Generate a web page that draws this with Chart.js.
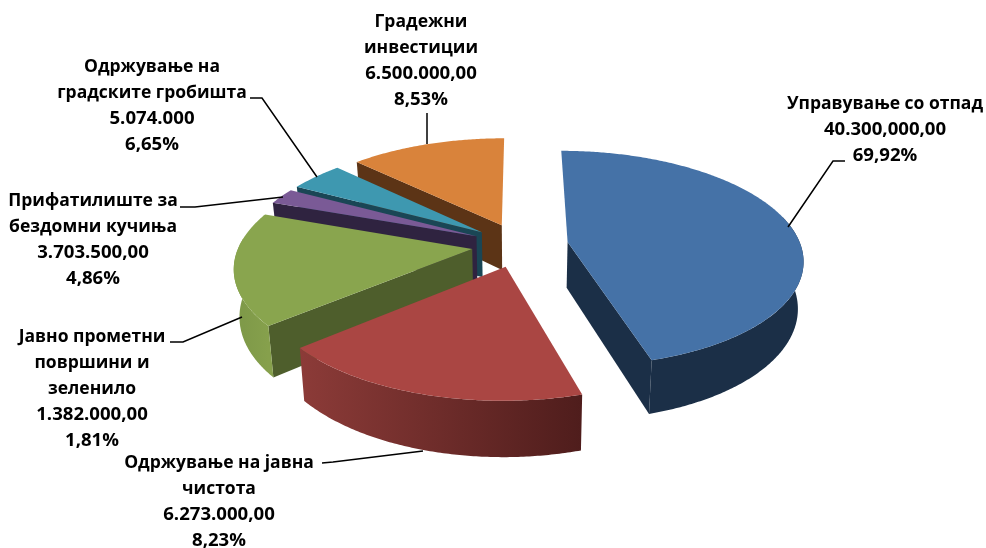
<!DOCTYPE html>
<html>
<head>
<meta charset="utf-8">
<title>Pie</title>
<script src="https://cdn.jsdelivr.net/npm/chart.js@4"></script>
<style>
html,body{margin:0;padding:0;background:#fff;}
canvas{display:block;}
</style>
</head>
<body>
<canvas id="graph" width="986" height="548"></canvas>
<script>
// names, amounts and percents as printed on the labels
let categories = [
    ["Управување со отпад"],
    ["Одржување на јавна", "чистота"],
    ["Јавно прометни", "површини и", "зеленило"],
    ["Прифатилиште за", "бездомни кучиња"],
    ["Одржување на", "градските гробишта"],
    ["Градежни", "инвестиции"]
];
let amounts = ["40.300,000,00", "6.273.000,00", "1.382.000,00", "3.703.500,00", "5.074.000", "6.500.000,00"];
let percents = ["69,92%", "8,23%", "1,81%", "4,86%", "6,65%", "8,53%"];
// the slices are not drawn to the printed percents, these are the drawn shares
let sliceShares = [45.5, 18.3, 16.7, 2.4, 4.4, 12.7];

let topColors = ["#4572A7", "#AA4643", "#89A54E", "#7A5A96", "#3E98B0", "#D9833B"];
let wallColors = ["#1B2F47", "#5A2220", "#4E5E2C", "#2F2340", "#1A4655", "#5C3416"];
let outerFrom = ["#1B2F47", "#8C3B38", "#7F9A49", "#2F2340", "#1A4655", "#5C3416"];
let outerTo = ["#1B2F47", "#4F1D1C", "#86A04C", "#2F2340", "#1A4655", "#5C3416"];

// label block centre x, first line y, and leader line
let labelX = [885, 219, 92, 93, 152, 421];
let labelY = [104, 463, 337, 201, 67, 22];
let lineHeight = 26;
let leaders = [
    [[845, 161], [833, 161], [788, 227]],
    [[322, 463], [333, 462], [423, 451]],
    [[170, 342], [183, 342], [242, 317]],
    [[180, 207], [195, 207], [283, 197]],
    [[250, 98], [262, 98], [317, 177]],
    [[427, 113], [427, 144]]
];

// tilted view of the pie plane
const anchoPie = 233;
const altoPie = 106;
const perspectiva = 6.5;
const profundidad = 46;
const fuga = 0.98;

function proyectar(chartArc, X, Y, abajo) {
    let k = 1 / (1 + Y / perspectiva);
    let x = anchoPie * X * k;
    let y = -altoPie * Y * k;
    if (abajo) {
        x = x * fuga;
        y = y + profundidad * k;
    }
    return [chartArc.x + x, chartArc.y + y];
}

// angles as chart.js keeps them, everything in radii of the arc
function puntoBorde(arc, theta) {
    let c = puntoCentro(arc);
    return [c[0] + Math.cos(theta), c[1] - Math.sin(theta)];
}

function puntoCentro(arc) {
    let mitad = (arc.startAngle + arc.endAngle) / 2;
    let off = arc.options.offset / arc.outerRadius;
    return [Math.cos(mitad) * off, -Math.sin(mitad) * off];
}

function rellenar(ctx, puntos, color) {
    ctx.beginPath();
    puntos.forEach((p, i) => {
        if (i == 0) ctx.moveTo(p[0], p[1]);
        else ctx.lineTo(p[0], p[1]);
    });
    ctx.closePath();
    ctx.fillStyle = color;
    ctx.fill();
}

function muestrasArco(a, b) {
    let lista = [];
    let pasos = Math.max(2, Math.ceil((b - a) / 0.01));
    for (let i = 0; i <= pasos; i++) lista.push(a + (b - a) * i / pasos);
    return lista;
}

function dibujarSlice(ctx, arc, i) {
    let c = puntoCentro(arc);
    let ini = arc.startAngle;
    let fin = arc.endAngle;
    let arriba = (p) => proyectar(arc, p[0], p[1], false);
    let bajo = (p) => proyectar(arc, p[0], p[1], true);

    // radial walls that face the viewer
    let muro = (theta) => {
        let q = puntoBorde(arc, theta);
        rellenar(ctx, [arriba(c), arriba(q), bajo(q), bajo(c)], wallColors[i]);
    };
    if (Math.cos(ini) < -0.001) muro(ini);
    if (Math.cos(fin) > 0.001) muro(fin);

    // outer wall, only the front part
    let a = Math.max(ini, -0.25);
    let b = Math.min(fin, Math.PI + 0.1);
    if (b > a) {
        let th = muestrasArco(a, b);
        let pts = th.map(t => arriba(puntoBorde(arc, t)));
        let ptsBajo = th.map(t => bajo(puntoBorde(arc, t))).reverse();
        let grad = ctx.createLinearGradient(pts[pts.length - 1][0], 0, pts[0][0], 0);
        grad.addColorStop(0, outerFrom[i]);
        grad.addColorStop(1, outerTo[i]);
        rellenar(ctx, pts.concat(ptsBajo), grad);
    }

    // top face
    let borde = muestrasArco(ini, fin).map(t => arriba(puntoBorde(arc, t)));
    rellenar(ctx, [arriba(c)].concat(borde), topColors[i]);
}

const pie3d = {
    id: "pie3d",
    beforeDatasetDraw(chart, args) {
        let ctx = chart.ctx;
        let arcs = chart.getDatasetMeta(args.index).data;
        let orden = arcs.map((arc, i) => i).sort((p, q) => {
            let mp = (arcs[p].startAngle + arcs[p].endAngle) / 2;
            let mq = (arcs[q].startAngle + arcs[q].endAngle) / 2;
            return Math.sin(mp) - Math.sin(mq);
        });
        orden.forEach(i => dibujarSlice(ctx, arcs[i], i));
        return false;
    },
    afterDraw(chart) {
        let ctx = chart.ctx;
        ctx.save();
        ctx.strokeStyle = "#000";
        ctx.lineWidth = 1.5;
        leaders.forEach(l => {
            ctx.beginPath();
            l.forEach((p, i) => {
                if (i == 0) ctx.moveTo(p[0], p[1]);
                else ctx.lineTo(p[0], p[1]);
            });
            ctx.stroke();
        });
        ctx.fillStyle = "#000";
        ctx.textAlign = "center";
        ctx.textBaseline = "middle";
        categories.forEach((nombre, i) => {
            let lineas = nombre.concat([amounts[i], percents[i]]);
            lineas.forEach((t, j) => {
                ctx.font = (j < nombre.length ? "bold 17.5px" : "bold 18.6px") + " 'Open Sans'";
                ctx.fillText(t, labelX[i], labelY[i] + j * lineHeight);
            });
        });
        ctx.restore();
    }
};

var ctx = document.getElementById("graph");
var miPie = new Chart(ctx, {
    type: "pie",
    data: {
        labels: categories.map(n => n.join(" ")),
        datasets: [{
            data: sliceShares,
            backgroundColor: topColors,
            borderWidth: 0,
            offset: 46
        }]
    },
    options: {
        responsive: false,
        animation: false,
        layout: { padding: { left: 54, bottom: 58 } },
        plugins: { legend: { display: false }, tooltip: { enabled: false } }
    },
    plugins: [pie3d]
});
</script>
</body>
</html>
